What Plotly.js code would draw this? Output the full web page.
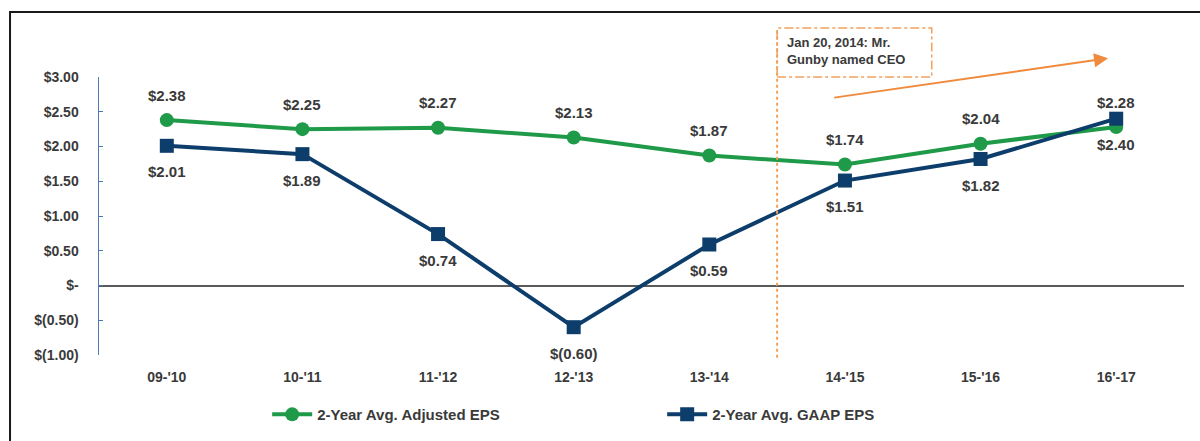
<!DOCTYPE html>
<html><head><meta charset="utf-8">
<script src="https://cdn.plot.ly/plotly-3.0.1.min.js"></script>
<style>body{margin:0;background:#fff}#c{width:1200px;height:441px}</style>
</head><body><div id="c"></div>
<script>
const categories = ["09-'10","10-'11","11-'12","12-'13","13-'14","14-'15","15-'16","16'-17"];
const adjustedEPS = [2.38, 2.25, 2.27, 2.13, 1.87, 1.74, 2.04, 2.28];
const gaapEPS = [2.01, 1.89, 0.74, -0.60, 0.59, 1.51, 1.82, 2.40];
const yTickVals = [3, 2.5, 2, 1.5, 1, 0.5, 0, -0.5, -1];
const yTickText = ["$3.00","$2.50","$2.00","$1.50","$1.00","$0.50","$-","$(0.50)","$(1.00)"];
const fmt = v => v < 0 ? "$(" + Math.abs(v).toFixed(2) + ")" : "$" + v.toFixed(2);

const green = "#1f9a48", navy = "#0d3d6b";
const FF = "Liberation Sans, Arial";
const lblFont = {family: FF, size: 15, color: "#3a3a3a", weight: 700};

const traces = [
  {x: categories, y: adjustedEPS, name: "2-Year Avg. Adjusted EPS", type: "scatter", mode: "lines+markers",
   line: {color: green, width: 4}, marker: {symbol: "circle", size: 14, color: green}, cliponaxis: false},
  {x: categories, y: gaapEPS, name: "2-Year Avg. GAAP EPS", type: "scatter", mode: "lines+markers",
   line: {color: navy, width: 4}, marker: {symbol: "square", size: 14, color: navy}, cliponaxis: false}
];

const labelAnns = [];
categories.forEach((c, i) => {
  labelAnns.push({xref: "x", yref: "y", x: c, y: adjustedEPS[i], text: fmt(adjustedEPS[i]), showarrow: false,
                  yshift: 25, font: lblFont});
  labelAnns.push({xref: "x", yref: "y", x: c, y: gaapEPS[i], text: fmt(gaapEPS[i]), showarrow: false,
                  yshift: -26, font: lblFont});
});

const layout = {
  width: 1200, height: 441,
  margin: {l: 99, r: 16, t: 77, b: 86, autoexpand: false},
  paper_bgcolor: "#fff", plot_bgcolor: "#fff",
  font: {family: FF, size: 12, color: "#3a3a3a"},
  showlegend: true,
  legend: {orientation: "h", x: 0.155, xanchor: "left", y: -0.155, yanchor: "top",
           font: {family: FF, size: 15, color: "#3a3a3a", weight: 700}, itemwidth: 40, entrywidth: 340,
           tracegroupgap: 0},
  xaxis: {type: "category", range: [-0.5, 7.5], showgrid: false, zeroline: false, showline: false,
          ticks: "", tickfont: {family: FF, size: 14, weight: 700, color: "#3a3a3a"}, ticklabelstandoff: 12, fixedrange: true},
  yaxis: {range: [-1, 3], tickvals: yTickVals, ticktext: yTickText, showgrid: false,
          zeroline: true, zerolinecolor: "#5a5a5a", zerolinewidth: 2,
          showline: true, linecolor: "#4a7ab0", linewidth: 1.5, ticks: "inside", ticklen: 4, tickcolor: "#4a7ab0",
          tickfont: {family: FF, size: 14, weight: 700, color: "#3a3a3a"}, ticklabelstandoff: 16, fixedrange: true},
  shapes: [
    {type: "rect", xref: "paper", yref: "paper", x0: -0.082, x1: 1.2, y0: -1, y1: 1.234,
     line: {color: "#1a1a1a", width: 2}, fillcolor: "rgba(0,0,0,0)", layer: "below"},
    {type: "line", xref: "x", yref: "paper", x0: 4.5, x1: 4.5, y0: -0.01, y1: 1.176,
     line: {color: "#f2a05c", width: 2, dash: "dot"}},
    {type: "rect", xref: "x", yref: "paper", x0: 4.5, x1: 5.64, y0: 1.0, y1: 1.176,
     line: {color: "#f2a05c", width: 1.5, dash: "dashdot"}, fillcolor: "rgba(0,0,0,0)"}
  ],
  annotations: labelAnns.concat([
    {xref: "x", yref: "paper", x: 4.56, y: 1.16, xanchor: "left", yanchor: "top", align: "left",
     text: "Jan 20, 2014: Mr.<br>Gunby named CEO", showarrow: false,
     font: {family: FF, size: 13, color: "#3a3a3a", weight: 700}},
    {xref: "x", yref: "y", x: 6.94, y: 3.27, ax: 4.91, ay: 2.70, axref: "x", ayref: "y",
     showarrow: true, arrowhead: 2, arrowsize: 1.4, arrowwidth: 2, arrowcolor: "#f08a3c", text: ""}
  ])
};
Plotly.newPlot("c", traces, layout, {displayModeBar: false, staticPlot: true});
</script></body></html>
